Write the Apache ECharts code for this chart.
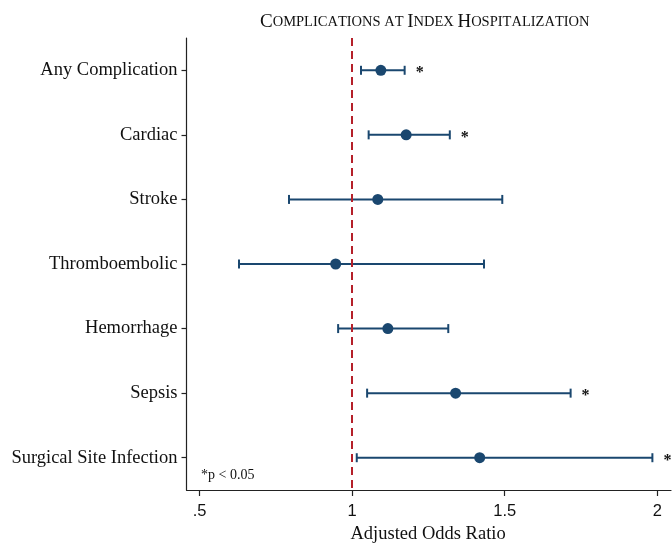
<!DOCTYPE html>
<html>
<head>
<meta charset="utf-8">
<script src="https://cdn.jsdelivr.net/npm/echarts@6/dist/echarts.min.js"></script>
<style>html,body{margin:0;padding:0;background:#fff;}#c{width:672px;height:544px;}</style>
</head>
<body>
<div id="c"></div>
<script>
var categories = ['Any Complication','Cardiac','Stroke','Thromboembolic','Hemorrhage','Sepsis','Surgical Site Infection'];
var oddsRatio = [1.094, 1.177, 1.084, 0.946, 1.117, 1.339, 1.418];
var ciLower   = [1.029, 1.054, 0.793, 0.629, 0.954, 1.049, 1.015];
var ciUpper   = [1.172, 1.320, 1.492, 1.432, 1.315, 1.716, 1.984];
var significant = [1, 1, 0, 0, 0, 1, 1];
var xTickValues = [0.5, 1, 1.5, 2];
var xTickLabels = ['.5', '1', '1.5', '2'];
var refValue = 1;
var titleText = 'Complications at Index Hospitalization';

var NAVY = '#1a476f';
var SERIF = '"Liberation Serif", "Times New Roman", serif';
var SANS = '"Liberation Sans", Arial, sans-serif';

var rows = categories.map(function (c, i) {
  return [i, oddsRatio[i], ciLower[i], ciUpper[i], significant[i]];
});

var chart = echarts.init(document.getElementById('c'), null, {renderer: 'canvas'});

function smallCaps(str) {
  var out = '';
  for (var i = 0; i < str.length; i++) {
    var ch = str.charAt(i);
    if (ch !== ' ' && ch === ch.toUpperCase()) out += '{b|' + ch + '}';
    else out += '{s|' + ch.toUpperCase() + '}';
  }
  return out;
}

chart.setOption({
  animation: false,
  backgroundColor: '#fff',
  grid: {left: 186.5, top: 38, width: 484.5, height: 452, containLabel: false},
  xAxis: {
    type: 'value',
    min: 0.457,
    max: 2.045,
    splitLine: {show: false},
    axisLine: {show: true, onZero: false, lineStyle: {color: '#222', width: 1.2}},
    axisTick: {show: true, length: 6, lineStyle: {color: '#222', width: 1.2},
      customValues: xTickValues},
    axisLabel: {
      customValues: xTickValues,
      margin: 13,
      fontFamily: SANS, fontSize: 16.5, color: '#111',
      formatter: function (v) {
        for (var k = 0; k < xTickValues.length; k++) {
          if (Math.abs(v - xTickValues[k]) < 1e-6) return xTickLabels[k];
        }
        return '';
      }
    }
  },
  yAxis: {
    type: 'category',
    data: categories,
    inverse: true,
    boundaryGap: true,
    axisLine: {show: true, lineStyle: {color: '#222', width: 1.2}},
    axisTick: {show: true, alignWithLabel: true, length: 5, lineStyle: {color: '#222', width: 1.2}},
    axisLabel: {margin: 9, fontFamily: SERIF, fontSize: 18.5, color: '#111'},
    splitLine: {show: false}
  },
  title: [
    {
      text: smallCaps(titleText),
      left: 255, top: 8,
      textStyle: {
        fontFamily: SERIF, fontWeight: 'normal', color: '#111',
        rich: {
          b: {fontFamily: SERIF, fontSize: 19, fontWeight: 'normal', color: '#111'},
          s: {fontFamily: SERIF, fontSize: 14.5, fontWeight: 'normal', color: '#111'}
        }
      }
    },
    {
      text: 'Adjusted Odds Ratio',
      left: 345.5, top: 520,
      textStyle: {fontFamily: SERIF, fontSize: 18.5, fontWeight: 'normal', color: '#111'}
    },
    {
      text: '*p < 0.05',
      left: 196, top: 463,
      textStyle: {fontFamily: SERIF, fontSize: 14, fontWeight: 'normal', color: '#111'}
    }
  ],
  series: [
    {
      type: 'custom',
      data: rows,
      encode: {x: [1, 2, 3], y: 0},
      renderItem: function (params, api) {
        var p = api.coord([api.value(1), api.value(0)]);
        var y = p[1], xp = p[0];
        var xl = api.coord([api.value(2), api.value(0)])[0];
        var xu = api.coord([api.value(3), api.value(0)])[0];
        var cap = 4.5;
        var ls = {stroke: NAVY, lineWidth: 2};
        var children = [
          {type: 'line', shape: {x1: xl, y1: y, x2: xu, y2: y}, style: ls},
          {type: 'line', shape: {x1: xl, y1: y - cap, x2: xl, y2: y + cap}, style: ls},
          {type: 'line', shape: {x1: xu, y1: y - cap, x2: xu, y2: y + cap}, style: ls},
          {type: 'circle', shape: {cx: xp, cy: y, r: 5.5}, style: {fill: NAVY}}
        ];
        if (api.value(4)) {
          children.push({type: 'text', x: xu + 15, y: y + 3,
            style: {text: '*', fontFamily: SERIF, fontSize: 16, fontWeight: 'bold', fill: '#111',
              align: 'center', verticalAlign: 'middle'}});
        }
        return {type: 'group', children: children};
      },
      markLine: {
        silent: true,
        symbol: 'none',
        label: {show: false},
        lineStyle: {color: '#b5202a', type: [8, 5], width: 2},
        data: [{xAxis: refValue}]
      },
      z: 3
    }
  ]
});
</script>
</body>
</html>
